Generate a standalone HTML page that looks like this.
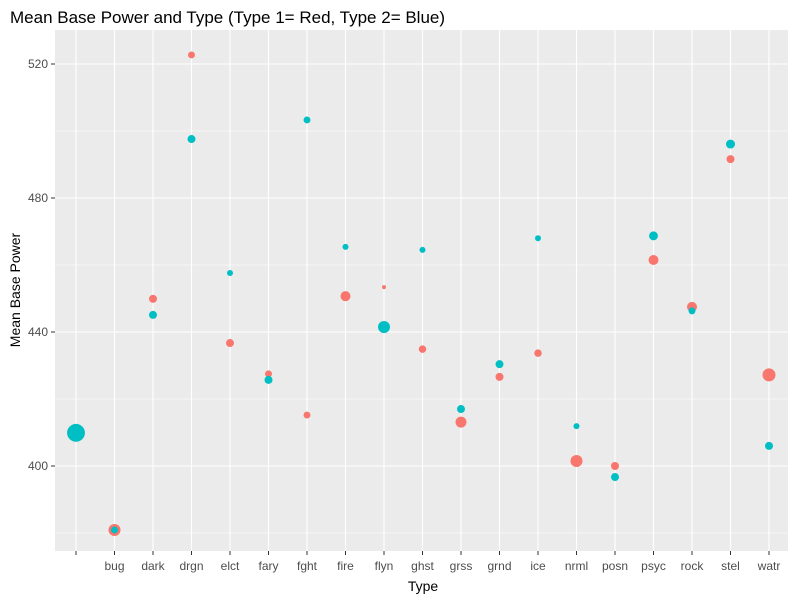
<!DOCTYPE html>
<html><head><meta charset="utf-8"><style>
body{margin:0;background:#fff;}
svg{display:block;font-family:"Liberation Sans",Arial,sans-serif;}
</style></head><body>
<svg id="chart" width="800" height="600">
<text x="10" y="23" font-size="17" fill="#000">Mean Base Power and Type (Type 1= Red, Type 2= Blue)</text>
<rect x="55" y="30" width="733" height="521" fill="#ebebeb"/>
<g id="grid"></g><g id="yticks"></g><g id="xticks"></g><g id="points"></g>
<text x="423" y="591" font-size="14" text-anchor="middle" fill="#000">Type</text>
<text transform="translate(20,290) rotate(-90)" font-size="14" text-anchor="middle" fill="#000">Mean Base Power</text>
</svg>
<script>
const categories=["","bug","dark","drgn","elct","fary","fght","fire","flyn","ghst","grss","grnd","ice","nrml","posn","psyc","rock","stel","watr"];
const type1Values=[null,380.9,449.9,522.7,436.7,427.5,415.2,450.7,453.4,434.9,413.1,426.6,433.7,401.5,400,461.5,447.5,491.6,427.2];
const type1Counts=[null,36,16,12,16,12,12,25,4,14,30,16,14,36,16,25,25,16,42];
const type2Values=[409.9,380.9,445.1,497.6,457.6,425.7,503.3,465.4,441.5,464.5,417,430.4,468,411.9,396.7,468.7,446.3,496.1,406];
const type2Counts=[80,12,16,16,9,16,12,9,36,9,16,16,9,9,16,20,12,20,16];
const yTicks=[400,440,480,520];
const NS="http://www.w3.org/2000/svg";
const x=i=>76+i*38.5;
const y=v=>466-(v-400)*3.35;
const r=c=>Math.sqrt(c);
function mk(tag,attrs,parent){const e=document.createElementNS(NS,tag);for(const k in attrs)e.setAttribute(k,attrs[k]);document.getElementById(parent).appendChild(e);return e;}
for(let v=380;v<=530;v+=20){const yy=y(v);if(yy<30||yy>551)continue;
 const g=mk('line',{x1:55,x2:788,y1:yy,y2:yy,stroke:'#fff','stroke-width':v%40===0?1.1:0.5},'grid');
 
 }
categories.forEach((c,i)=>{const g=mk('line',{x1:x(i),x2:x(i),y1:30,y2:551,stroke:'#fff','stroke-width':1.1},'grid');
 
 
 const t=mk('line',{x1:x(i),x2:x(i),y1:551,y2:555,stroke:'#333'},'xticks');
 
 
 const l=mk('text',{x:x(i),y:570,'font-size':12,'text-anchor':'middle',fill:'#4d4d4d'},'xticks');l.textContent=c;
 
 });
yTicks.forEach(v=>{const t=mk('line',{x1:51,x2:55,y1:y(v),y2:y(v),stroke:'#333'},'yticks');
 
 
 const l=mk('text',{x:48,y:y(v)+4,'font-size':12,'text-anchor':'end',fill:'#4d4d4d'},'yticks');l.textContent=v;
 
 });
type1Values.forEach((v,i)=>{if(v==null)return;const p=mk('circle',{cx:x(i),cy:y(v),r:r(type1Counts[i]),fill:'#F8766D'},'points');
 
 });
type2Values.forEach((v,i)=>{if(v==null)return;const p=mk('circle',{cx:x(i),cy:y(v),r:r(type2Counts[i]),fill:'#00BFC4'},'points');
 
 });
</script>
</body></html>
